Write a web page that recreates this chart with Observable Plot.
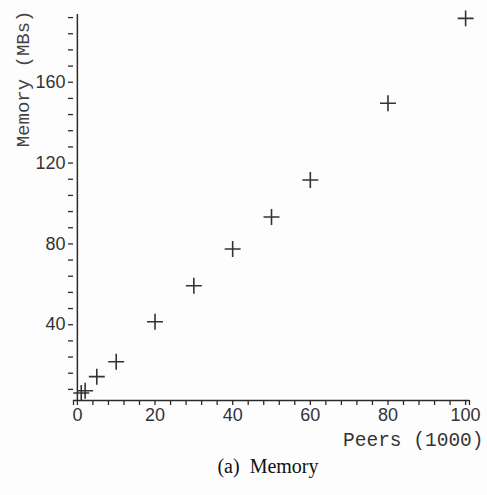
<!DOCTYPE html>
<html>
<head>
<meta charset="utf-8">
<script src="https://cdn.jsdelivr.net/npm/d3@7"></script>
<script src="https://cdn.jsdelivr.net/npm/@observablehq/plot@0.6"></script>
<style>
  body { margin: 0; background: #fff; }
  #wrap { position: relative; width: 487px; height: 495px; background: #fdfdfd; }
  #caption { position: absolute; left: 0; top: 455px; width: 536px; text-align: center;
    font-family: "Liberation Serif", "Times New Roman", serif; font-size: 20px; color: #111; }
</style>
</head>
<body>
<div id="wrap"><div id="chart"></div><div id="caption">(a)&nbsp; Memory</div></div>
<script>
const peers = [1, 2, 5, 10, 20, 30, 40, 50, 60, 80, 100];
const memory = [6.2, 7.3, 14.3, 21.7, 41.5, 59.3, 77.5, 93.3, 111.6, 149.6, 191.6];
const xTicks = d3.range(0, 101, 4);
const yTicks = d3.range(8, 196, 8);
const data = peers.map((p, i) => ({peers: p, memory: memory[i]}));

const ink = "#2a2a2a";
const chart = Plot.plot({
  width: 487,
  height: 450,
  marginTop: 9,
  marginBottom: 50,
  marginLeft: 73,
  marginRight: 18,
  style: {background: "transparent", color: ink, fontFamily: "'Liberation Sans', Arial, sans-serif", fontSize: "18px", overflow: "visible"},
  x: {domain: [-1, 101]},
  y: {domain: [2.5, 196]},
  marks: [
    Plot.ruleY([2.5], {stroke: ink, strokeWidth: 1.5}),
    Plot.ruleX([0], {stroke: ink, strokeWidth: 1.5, y1: 2.5, y2: 196, insetBottom: -5}),
    Plot.axisX(xTicks.concat([-1, 101]), {tickSize: 5, tickPadding: 3, tickFormat: d => (d >= 0 && d % 20 === 0) ? d : "", label: null, stroke: ink, strokeWidth: 1.3, fontSize: 18, fill: "#333"}),
    Plot.axisY(yTicks, {tickSize: 5, tickPadding: 3, tickFormat: d => d % 40 === 0 ? d : "", label: null, stroke: ink, strokeWidth: 1.3, fontSize: 18, fill: "#333"}),
    Plot.dot(data, {x: "peers", y: "memory", symbol: "plus", r: 5.2, stroke: "#333", strokeWidth: 1.6}),
    Plot.text(["Memory (MBs)"], {frameAnchor: "top-left", rotate: -90, textAnchor: "end", lineAnchor: "middle", dx: -51, dy: 1, fontFamily: "'Liberation Mono', 'Courier New', monospace", fontSize: 19, fill: "#444"}),
    Plot.text(["Peers (1000)"], {frameAnchor: "bottom-right", textAnchor: "end", lineAnchor: "middle", dx: 14, dy: 39, fontFamily: "'Liberation Mono', 'Courier New', monospace", fontSize: 19.5, fill: "#333"})
  ]
});
document.getElementById("chart").appendChild(chart);
</script>
</body>
</html>
